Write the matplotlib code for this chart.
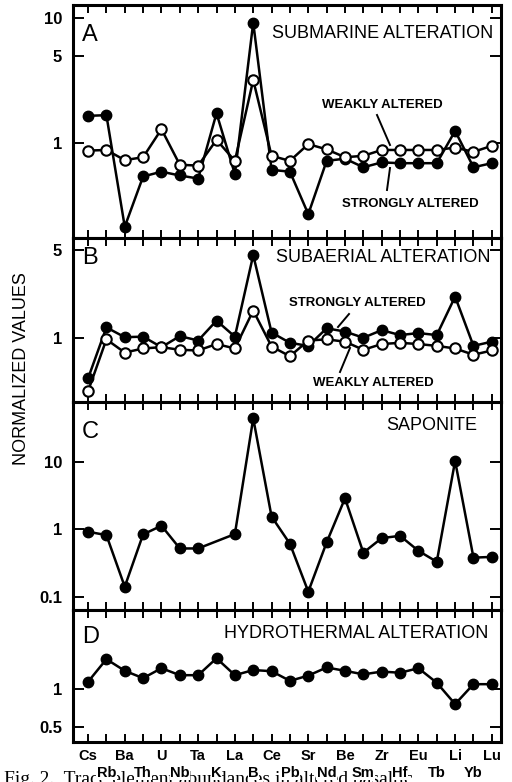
import matplotlib
matplotlib.use("Agg")
import matplotlib.pyplot as plt
import numpy as np
from matplotlib.lines import Line2D

plt.rcParams['font.family'] = ['Liberation Sans', 'DejaVu Sans']

elements = ["Cs", "Rb", "Ba", "Th", "U", "Nb", "Ta", "K", "La", "B", "Ce", "Pb",
            "Sr", "Nd", "Be", "Sm", "Zr", "Hf", "Eu", "Tb", "Li", "Yb", "Lu"]

# Panel A: submarine alteration
sub_strong = [1.65, 1.67, 0.214, 0.54, 0.59, 0.55, 0.52, 1.73, 0.565, 9.2, 0.61, 0.59,
              0.27, 0.72, 0.75, 0.64, 0.70, 0.69, 0.69, 0.69, 1.25, 0.64, 0.69]
sub_weak = [0.87, 0.88, 0.73, 0.77, 1.29, 0.67, 0.66, 1.06, 0.72, 3.19, 0.79, 0.72,
            0.98, 0.89, 0.77, 0.79, 0.88, 0.88, 0.88, 0.88, 0.92, 0.85, 0.95]
# Panel B: subaerial alteration
aer_strong = [0.48, 1.22, 1.02, 1.03, 0.85, 1.04, 0.96, 1.38, 1.03, 4.58, 1.11, 0.92,
              0.87, 1.20, 1.13, 1.01, 1.16, 1.06, 1.10, 1.06, 2.14, 0.87, 0.94]
aer_weak = [0.38, 0.98, 0.77, 0.83, 0.85, 0.81, 0.80, 0.90, 0.83, 1.66, 0.86, 0.72,
            0.96, 0.98, 0.94, 0.81, 0.90, 0.92, 0.90, 0.87, 0.83, 0.74, 0.80]
# Panel C: saponite (no K)
saponite = [0.92, 0.82, 0.141, 0.84, 1.13, 0.52, 0.52, np.nan, 0.85, 44.0, 1.54, 0.61,
            0.119, 0.64, 2.88, 0.45, 0.74, 0.80, 0.48, 0.33, 10.3, 0.38, 0.39]
# Panel D: hydrothermal alteration
hydro = [1.15, 1.75, 1.41, 1.23, 1.48, 1.30, 1.30, 1.78, 1.30, 1.43, 1.40, 1.17,
         1.29, 1.50, 1.41, 1.32, 1.39, 1.36, 1.48, 1.13, 0.76, 1.10, 1.10]

W, H = 512, 782
fig = plt.figure(figsize=(W / 100, H / 100), dpi=100)


def fx(px):
    return px / W


def fy(py):
    return 1 - py / H


left, right = 73, 501
panels = [(5, 238), (238, 402), (402, 610), (610, 742)]
ylims = [(0.174, 12.7), (0.312, 6.25), (0.0637, 76.9), (0.376, 4.36)]
yticks = [[1, 5, 10], [1, 5], [0.1, 1, 10], [0.5, 1]]
yticklabels = [["1", "5", "10"], ["1", "5"], ["0.1", "1", "10"], ["0.5", "1"]]
x = np.arange(len(elements))

axes = []
for (top, bot), yl, yt, ytl in zip(panels, ylims, yticks, yticklabels):
    ax = fig.add_axes([fx(left), fy(bot), fx(right) - fx(left), (bot - top) / H])
    ax.set_yscale('log')
    ax.set_ylim(*yl)
    ax.set_xlim(-0.82, 22.5)
    ax.yaxis.set_major_locator(matplotlib.ticker.FixedLocator(yt))
    ax.yaxis.set_minor_locator(matplotlib.ticker.NullLocator())
    ax.set_yticklabels(ytl)
    ax.set_xticks(x[::2])
    ax.set_xticks(x[1::2], minor=True)
    ax.tick_params(axis='x', which='both', direction='in', top=True, bottom=True,
                   length=6, width=1.4)
    ax.tick_params(axis='y', which='major', direction='in', left=True, right=True,
                   length=8, width=1.4, pad=8)
    for lab in ax.get_yticklabels():
        lab.set_fontsize(12)
        lab.set_fontweight('bold')
    for s in ax.spines.values():
        s.set_linewidth(2.2)
    ax.set_xticklabels([])
    ax.set_xticklabels([], minor=True)
    axes.append(ax)

axA, axB, axC, axD = axes

lkw = dict(color='black', lw=1.8, zorder=3)
axA.plot(x, sub_strong, marker='o', ms=7.5, mfc='black', mec='black', **lkw)
axA.plot(x, sub_weak, marker='o', ms=7.5, mfc='white', mec='black', mew=1.5, **lkw)
axB.plot(x, aer_strong, marker='o', ms=7.5, mfc='black', mec='black', **lkw)
axB.plot(x, aer_weak, marker='o', ms=7.5, mfc='white', mec='black', mew=1.5, **lkw)
sap = np.array(saponite)
m = ~np.isnan(sap)
axC.plot(x[m], sap[m], marker='o', ms=7.5, mfc='black', mec='black', **lkw)
axD.plot(x, hydro, marker='o', ms=7.5, mfc='black', mec='black', **lkw)

# bottom x labels in two staggered rows
axD.set_xticklabels(elements[::2], fontsize=10.5, fontweight='bold')
axD.set_xticklabels(elements[1::2], minor=True, fontsize=10.5, fontweight='bold')
axD.tick_params(axis='x', which='major', pad=5)
axD.tick_params(axis='x', which='minor', pad=17)
for lab in axD.get_xticklabels(minor=True) + axD.get_xticklabels():
    lab.set_bbox(dict(facecolor='white', edgecolor='none', pad=0.3))

# panel letters and titles
letters = [("A", 35), ("B", 258), ("C", 432), ("D", 637)]
for t, yy in letters:
    fig.text(fx(82), fy(yy), t, fontsize=17, ha='left', va='center')
titles = [("SUBMARINE ALTERATION", 493, 34), ("SUBAERIAL ALTERATION", 490, 258),
          ("SAPONITE", 477, 425), ("HYDROTHERMAL ALTERATION", 488, 633)]
for t, xx, yy in titles:
    fig.text(fx(xx), fy(yy), t, fontsize=13, ha='right', va='center')

# series annotations
ann = [("WEAKLY ALTERED", 382, 105, (377, 115), (390, 145)),
       ("STRONGLY ALTERED", 410, 204, (387, 190), (390, 168)),
       ("STRONGLY ALTERED", 357, 303, (338, 327), (349, 314)),
       ("WEAKLY ALTERED", 373, 383, (340, 372), (350, 348))]
for t, xx, yy, p0, p1 in ann:
    fig.text(fx(xx), fy(yy), t, fontsize=9.5, fontweight='bold', ha='center', va='center')
    fig.add_artist(Line2D([fx(p0[0]), fx(p1[0])], [fy(p0[1]), fy(p1[1])],
                          color='black', lw=1.4, transform=fig.transFigure))

fig.text(fx(22), fy(369), "NORMALIZED VALUES", fontsize=13, rotation=90,
         ha='center', va='center')

# partially visible caption (drawn beneath the axes labels)
fig.text(fx(4), fy(784), "Fig. 2.  Trace element abundances in altered basaltic",
         fontsize=14, family=['Liberation Serif', 'DejaVu Serif'],
         ha='left', va='baseline', zorder=-1)

fig.savefig("out.png", dpi=100)
